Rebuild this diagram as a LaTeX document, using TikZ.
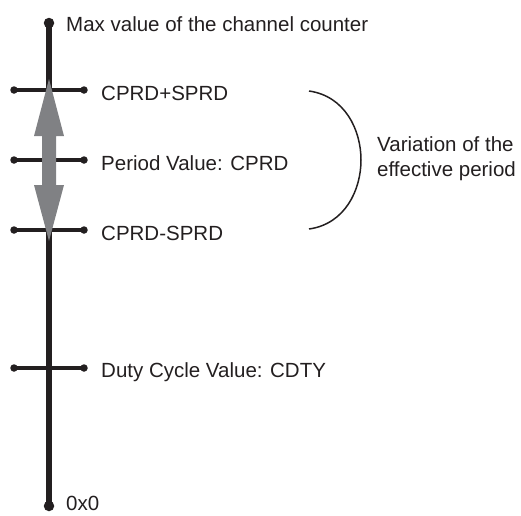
\documentclass[tikz,border=0pt]{standalone}
\usepackage{fontspec}
\setmainfont{Liberation Sans}
\begin{document}
\begin{tikzpicture}[x=1pt,y=-1pt,
  axisline/.style={line width=6pt,draw=ink},
  tickline/.style={line width=3.8pt,draw=ink},
  enddot/.style={circle,fill=ink,inner sep=0pt,minimum size=#1},
  lbl/.style={anchor=west,inner sep=0pt,font=\fontsize{20.5}{25}\selectfont,text=ink},
  bigarrow/.style={fill=arrowgray,draw=none}]
\definecolor{ink}{RGB}{35,31,32}
\definecolor{arrowgray}{RGB}{128,129,132}
\useasboundingbox (0,0) rectangle (521,515);
% main axis
\coordinate (top) at (49,23);
\coordinate (bot) at (49,506);
\draw[axisline] (top) -- (bot);
\node[enddot=10.5pt] (topdot) at (top) {};
\node[enddot=10.5pt] (botdot) at (bot) {};
% ticks
\foreach \n/\y in {t1/90,t2/160,t3/230,t4/368}{
  \coordinate (\n L) at (14,\y);
  \coordinate (\n R) at (84,\y);
  \draw[tickline] (\n L) -- (\n R);
  \node[enddot=7.5pt] at (\n L) {};
  \node[enddot=7.5pt] at (\n R) {};
}
% gray double arrow
\fill[bigarrow] (49,79) -- (64,136) -- (56,136) -- (56,185) -- (64,185) -- (49,241)
  -- (34,185) -- (42,185) -- (42,136) -- (34,136) -- cycle;
% labels
\node[lbl] (max) at (66,24) {Max value of the channel counter};
\node[lbl] (l1) at (101,93) {CPRD+SPRD};
\node[lbl] (l2) at (101,163) {Period Value: CPRD};
\node[lbl] (l3) at (101,233) {CPRD-SPRD};
\node[lbl] (l4) at (101,372) {Duty Cycle Value: CDTY};
\node[lbl] (zero) at (66,503) {0x0};
% bracket
\coordinate (bA) at (309,91);
\coordinate (bB) at (309,229);
\draw[line width=1.5pt,draw=ink] (bA) .. controls (345,96) and (361,130) .. (361,160)
  .. controls (361,190) and (345,224) .. (bB);
\node[lbl,align=left] (var) at (377,159)
  {Variation of the\\effective period};
\end{tikzpicture}
\end{document}
